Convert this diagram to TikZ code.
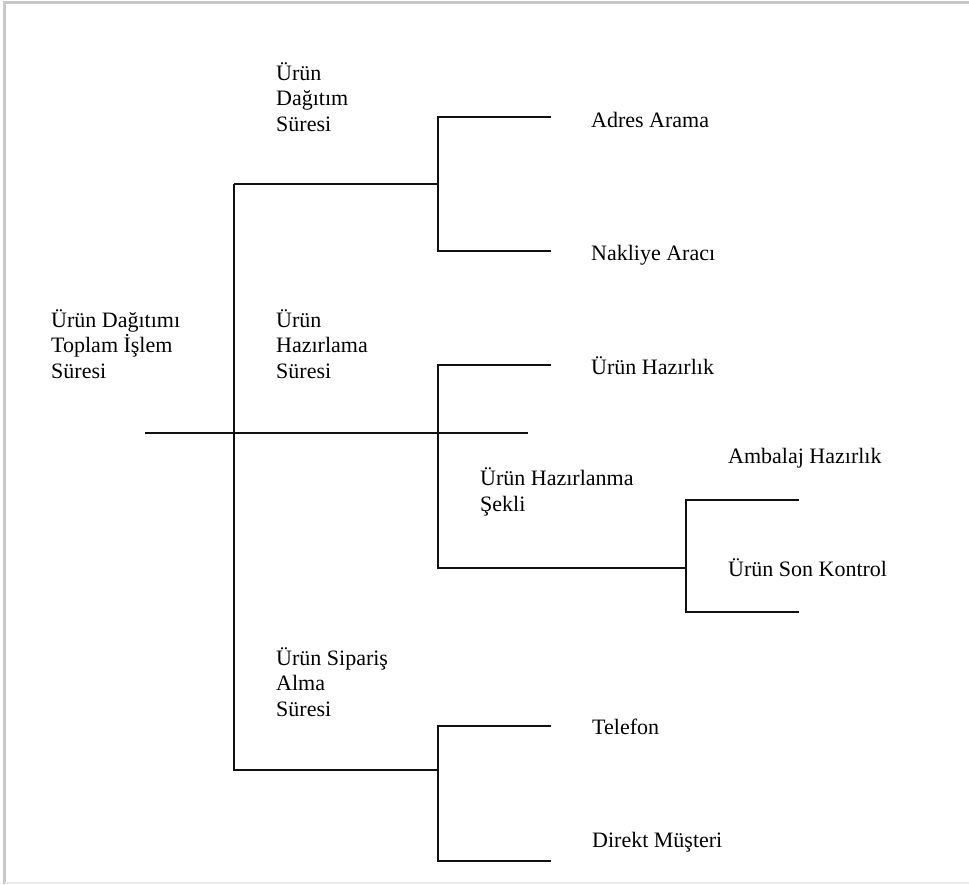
\documentclass[tikz,border=0pt]{standalone}
\usepackage{fontspec}
\usepackage{xcolor}
\usepackage{tikz}
\usetikzlibrary{positioning, calc}
\setmainfont{Liberation Serif}
\definecolor{framegray}{HTML}{C8C8C8}
\definecolor{framelight}{HTML}{EBEBEB}
\definecolor{darkgray}{HTML}{111111}
\tikzset{
  label/.style={
    anchor=base west, inner sep=0pt, align=left,
    font=\fontsize{22}{25.5}\selectfont,
  },
  branch/.style={line width=1.5pt, color=darkgray},
}

\begin{document}
\begin{tikzpicture}[x=1pt, y=-1pt]

  \useasboundingbox (0,0) rectangle (969,884);
  \draw[framegray, line width=2.5pt] (4.5,884) -- (4.5,2.5) -- (969,2.5);
  \draw[framelight, line width=1.5pt] (4.5,883) -- (969,883);

  % tree junctions and line ends
  \coordinate (rootL) at (145,433);
  \coordinate (rootR) at (528,433);
  \coordinate (trunkT) at (234,184);
  \coordinate (trunkB) at (234,770);
  \coordinate (dagJ) at (438,184);
  \coordinate (adresE) at (551,117);
  \coordinate (nakliyeE) at (551,251);
  \coordinate (hazirlikE) at (551,365);
  \coordinate (hazB) at (438,568);
  \coordinate (sekilJ) at (686,568);
  \coordinate (ambalajE) at (799,500);
  \coordinate (kontrolE) at (799,612);
  \coordinate (sipJ) at (438,770);
  \coordinate (telefonE) at (551,726);
  \coordinate (musteriE) at (551,861);

  % multi-line labels sit on the baseline of their last line
  \node[label] (toplam) at (51,378) {Ürün Dağıtımı\\Toplam İşlem\\Süresi};
  \node[label] (dagitim) at (276,131) {Ürün\\Dağıtım\\Süresi};
  \node[label] (hazirlama) at (276,378) {Ürün\\Hazırlama\\Süresi};
  \node[label] (siparis) at (276,716) {Ürün Sipariş\\Alma\\Süresi};
  \node[label] (adres) at (591,127) {Adres Arama};
  \node[label] (nakliye) at (591,260) {Nakliye Aracı};
  \node[label] (hazirlik) at (591,374) {Ürün Hazırlık};
  \node[label] (sekil) at (480,511) {Ürün Hazırlanma\\Şekli};
  \node[label] (ambalaj) at (728,463) {Ambalaj Hazırlık};
  \node[label] (kontrol) at (728,576) {Ürün Son Kontrol};
  \node[label] (telefon) at (592,734) {Telefon};
  \node[label] (musteri) at (592,847) {Direkt Müşteri};

  \draw[branch] (rootL) -- (rootR);
  \draw[branch] (trunkT) -- (trunkB) -- (sipJ);
  \draw[branch] (trunkT) -- (dagJ);
  \draw[branch] (adresE) -| (dagJ) |- (nakliyeE);
  \draw[branch] (hazirlikE) -| (hazB) -- (sekilJ);
  \draw[branch] (ambalajE) -| (sekilJ) |- (kontrolE);
  \draw[branch] (telefonE) -| (sipJ) |- (musteriE);

\end{tikzpicture}
\end{document}
